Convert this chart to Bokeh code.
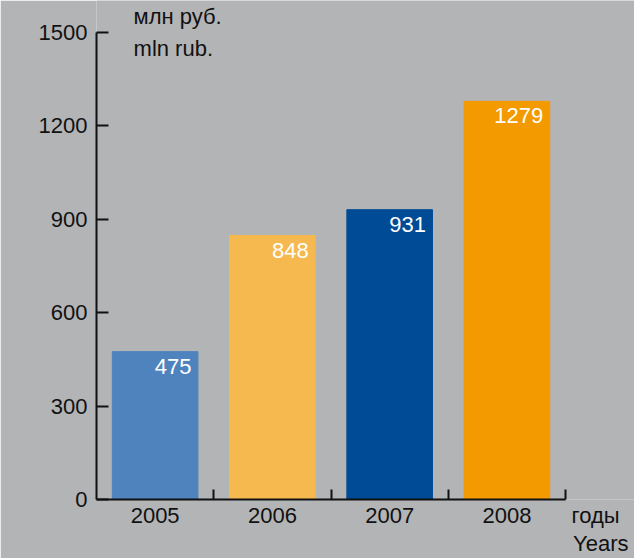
from bokeh.plotting import figure
from bokeh.models import FixedTicker, Label, ColumnDataSource, Range1d, LinearAxis
from bokeh.core.properties import value
from bokeh.embed import file_html
from bokeh.resources import INLINE

years = ["2005", "2006", "2007", "2008"]
revenue = [475, 848, 931, 1279]
colors = ["#4f83bd", "#f6b94f", "#004b96", "#f29a00"]
y_ticks = [0, 300, 600, 900, 1200, 1500]
y_unit = ["млн руб.", "mln rub."]
x_unit = ["годы", "Years"]

BG = "#b3b4b6"
INK = "#111111"
FONT = "Liberation Sans"
FS = "22px"

n = len(years)
xs = [i + 0.5 for i in range(n)]
src = ColumnDataSource(dict(x=xs, top=revenue, color=colors,
                            label=[str(v) for v in revenue],
                            lx=[x + 0.31 for x in xs]))

p = figure(width=634, height=558, output_backend="svg", toolbar_location=None,
           x_range=Range1d(0, 4.588), y_range=Range1d(0, 1603))
p.background_fill_color = BG
p.border_fill_color = BG
p.outline_line_color = None
p.grid.visible = False
p.min_border_left = 96
p.min_border_right = 0
p.min_border_top = 0
p.min_border_bottom = 59

p.vbar(x="x", top="top", width=0.73, color="color", source=src)
p.text(x="lx", y="top", text="label", source=src, text_align="right",
       text_baseline="top", y_offset=7, text_color="white",
       text_font=value(FONT), text_font_size=FS)

# y axis
ya = p.yaxis[0]
ya.bounds = (0, 1500)
ya.ticker = FixedTicker(ticks=y_ticks, minor_ticks=[])
ya.axis_line_width = 2
ya.axis_line_color = INK
ya.major_tick_line_width = 2
ya.major_tick_line_color = INK
ya.major_tick_in = 12
ya.major_tick_out = 0
ya.minor_tick_line_color = None
ya.major_label_standoff = 9
ya.major_label_text_font = FONT
ya.major_label_text_font_size = FS
ya.major_label_text_color = INK

# x axis line with ticks at category boundaries
xa = p.xaxis[0]
xa.bounds = (0, n)
xa.ticker = FixedTicker(ticks=[], minor_ticks=list(range(1, n + 1)))
xa.axis_line_width = 2
xa.axis_line_color = INK
xa.major_tick_line_color = None
xa.major_tick_in = 0
xa.major_tick_out = 0
xa.minor_tick_in = 10
xa.minor_tick_out = 0
xa.minor_tick_line_width = 2
xa.minor_tick_line_color = INK
xa.major_label_standoff = 0

# category labels + unit (first line)
unit_x = 4.256
xa2 = LinearAxis(ticker=FixedTicker(ticks=xs + [unit_x], minor_ticks=[]))
xa2.major_label_overrides = {**{x: y for x, y in zip(xs, years)}, unit_x: x_unit[0]}
xa2.axis_line_color = None
xa2.major_tick_line_color = None
xa2.minor_tick_line_color = None
xa2.major_tick_in = 0
xa2.major_tick_out = 0
xa2.major_label_standoff = 3
xa2.major_label_text_font = FONT
xa2.major_label_text_font_size = FS
xa2.major_label_text_color = INK
p.add_layout(xa2, "below")

# unit (second line)
unit_x2 = 4.30
xa3 = LinearAxis(ticker=FixedTicker(ticks=[unit_x2], minor_ticks=[]))
xa3.major_label_overrides = {unit_x2: x_unit[1]}
xa3.axis_line_color = None
xa3.major_tick_line_color = None
xa3.minor_tick_line_color = None
xa3.major_tick_in = 0
xa3.major_tick_out = 0
xa3.major_label_standoff = 0
xa3.major_label_text_font = FONT
xa3.major_label_text_font_size = FS
xa3.major_label_text_color = INK
p.add_layout(xa3, "below")

for txt, y in zip(y_unit, [1551, 1449]):
    p.add_layout(Label(x=0.316, y=y, text=txt, text_baseline="middle",
                       text_font=FONT, text_font_size=FS, text_color=INK))

html = file_html(p, INLINE)
html = html.replace("<body>", '<body style="background:%s;margin:0;">' % BG, 1)
open("out.html", "w").write(html)
